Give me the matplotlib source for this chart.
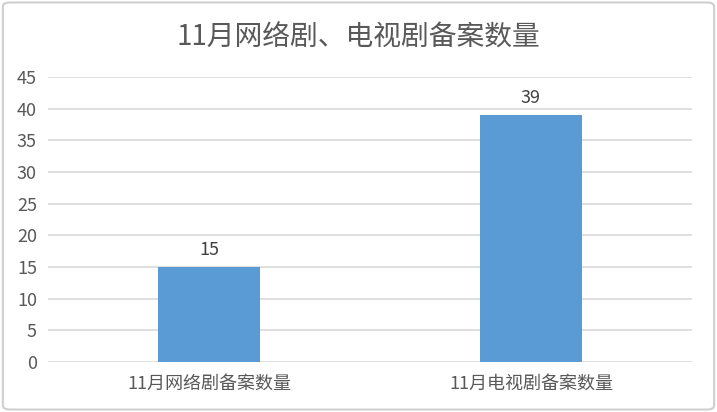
import matplotlib
matplotlib.use("Agg")
import matplotlib.pyplot as plt
from matplotlib.patches import FancyBboxPatch

plt.rcParams['font.family'] = ['Noto Sans CJK SC', 'DejaVu Sans']

title = "11月网络剧、电视剧备案数量"
categories = ["11月网络剧备案数量", "11月电视剧备案数量"]
values = [15, 39]
yticks = [0, 5, 10, 15, 20, 25, 30, 35, 40, 45]

text_color = "#595959"
bar_color = "#5B9BD5"
grid_color = "#D9D9D9"

fig = plt.figure(figsize=(7.17, 4.12), dpi=100)
ax = fig.add_axes([0.067, 0.1214, 0.898, 0.692])

x = list(range(len(categories)))
bars = ax.bar(x, values, width=0.316, color=bar_color, zorder=3)
for xi, v in zip(x, values):
    ax.annotate(str(v), (xi, v), xytext=(0, 6), textcoords="offset points",
                ha="center", va="bottom", fontsize=13, color="#404040")

ax.set_xlim(-0.5, 1.5)
ax.set_ylim(0, 45)
ax.set_yticks(yticks)
ax.set_yticklabels([str(t) for t in yticks], fontsize=13, color=text_color)
ax.set_xticks(x)
ax.set_xticklabels(categories, fontsize=13, color=text_color)
ax.tick_params(axis='both', length=0, pad=8)
ax.tick_params(axis='x', pad=9)
ax.grid(axis='y', color=grid_color, linewidth=1.2, zorder=0)
for s in ax.spines.values():
    s.set_visible(False)

fig.text(0.5, 0.908, title, ha="center", va="center", fontsize=20, color=text_color)

border = FancyBboxPatch((0.004, 0.006), 0.992, 0.988, boxstyle="round,pad=0,rounding_size=0.01",
                        transform=fig.transFigure, fill=False, edgecolor="#CFCFCF", linewidth=1.5)
fig.patches.append(border)

fig.savefig("out.png", dpi=100)
